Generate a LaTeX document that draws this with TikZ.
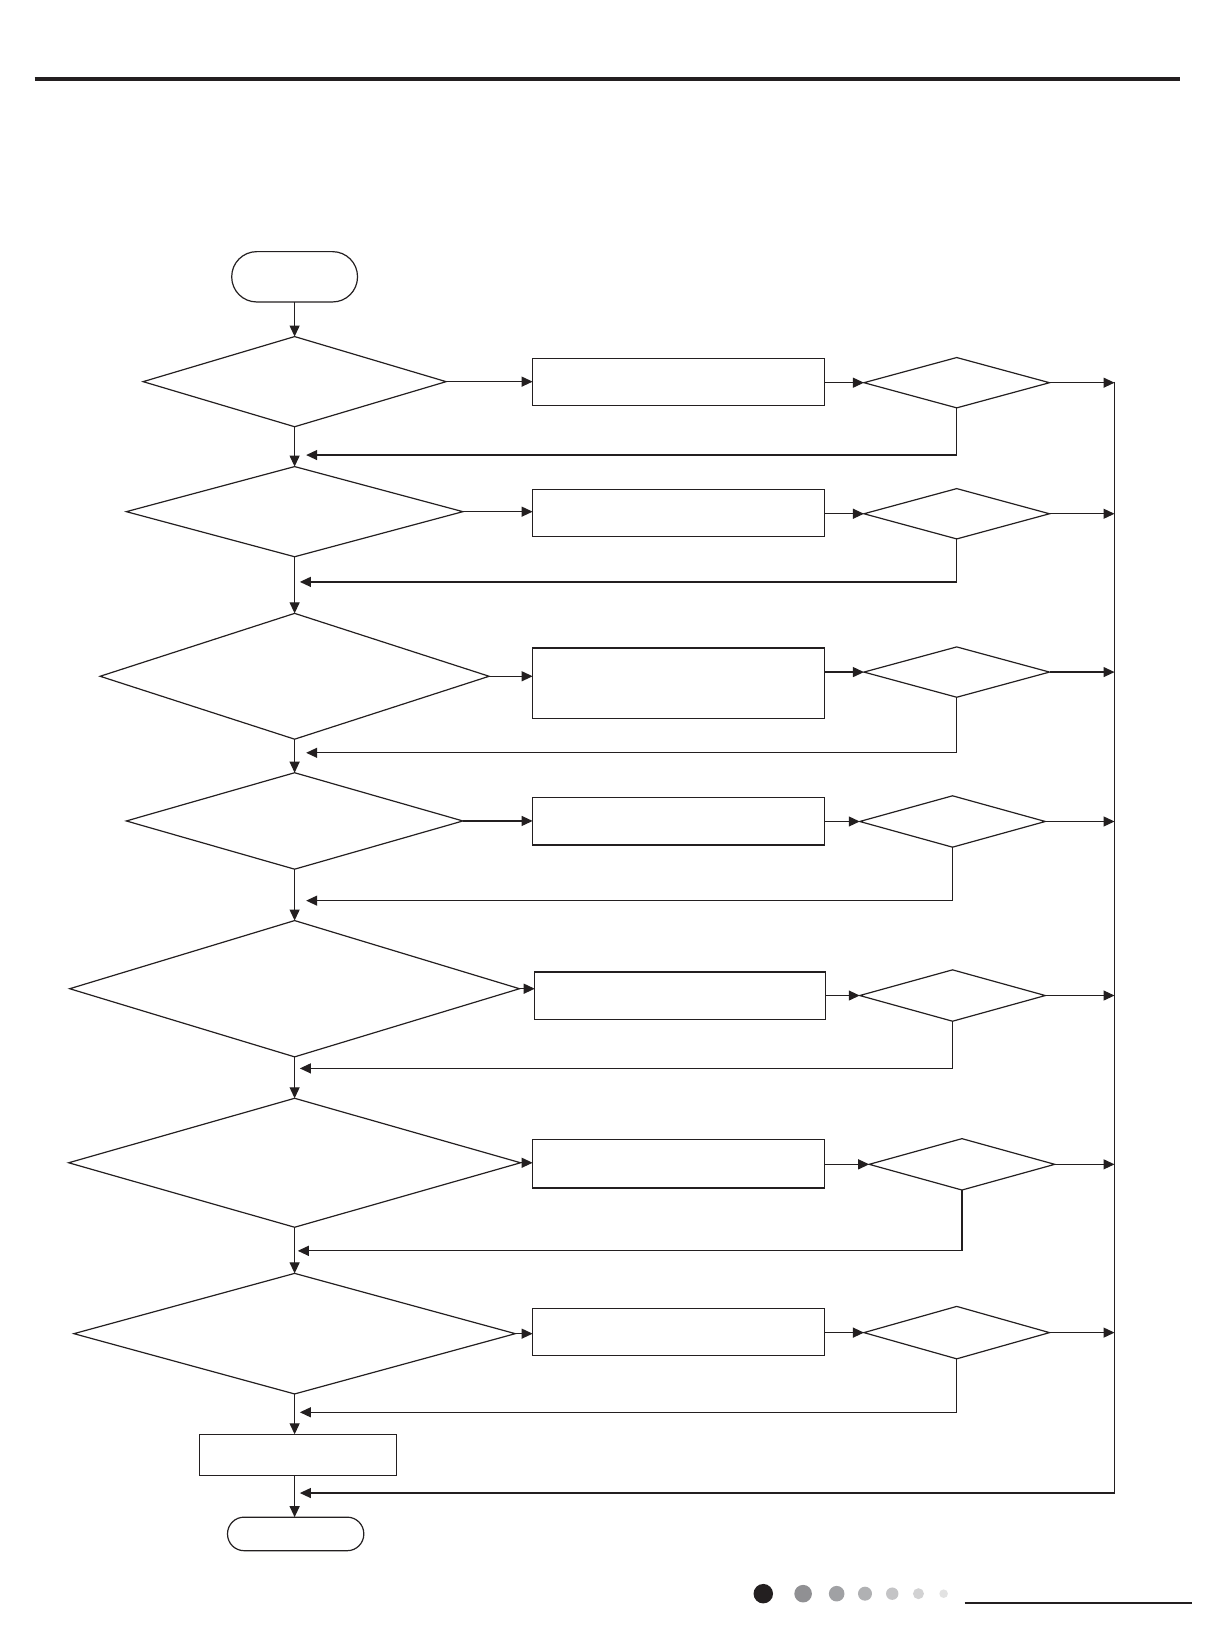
\documentclass[tikz,border=0pt]{standalone}
\usetikzlibrary{shapes.geometric,arrows.meta}
\definecolor{ink}{HTML}{231F20}
\definecolor{dotA}{HTML}{909093}
\definecolor{dotB}{HTML}{A0A1A4}
\definecolor{dotC}{HTML}{B0B1B3}
\definecolor{dotD}{HTML}{C4C4C6}
\definecolor{dotE}{HTML}{D2D2D3}
\definecolor{dotF}{HTML}{E2E2E2}
\begin{document}
\begin{tikzpicture}[x=0.5242pt,y=-0.5242pt,line width=0.6pt,draw=ink,
  >={Triangle[length=5.5pt,width=5pt]},
  dia/.style 2 args={draw=ink,diamond,inner sep=0pt,outer sep=0pt,minimum width=#1*0.5242pt,minimum height=#2*0.5242pt},
  box/.style 2 args={draw=ink,rectangle,inner sep=0pt,outer sep=0pt,minimum width=#1*0.5242pt,minimum height=#2*0.5242pt},
  term/.style 2 args={draw=ink,rectangle,inner sep=0pt,outer sep=0pt,minimum width=#1*0.5242pt,minimum height=#2*0.5242pt},
  flow/.style={->,draw=ink}]
\useasboundingbox (0,0) rectangle (1157,1568);
% header rule
\draw[line width=2.1pt] (33,75) -- (1125,75);
% terminators
\node[term={120}{48},rounded corners=12.5pt] (start) at (281,264) {};
\node[term={130}{32},rounded corners=8.3pt] (stop) at (282,1463) {};
% main decisions
\node[dia={289}{86}] (d1) at (281,364) {};
\node[dia={321}{86}] (d2) at (281,488) {};
\node[dia={371}{120}] (d3) at (281,645) {};
\node[dia={321}{92}] (d4) at (281,783) {};
\node[dia={429}{130}] (d5) at (281,943) {};
\node[dia={431}{123}] (d6) at (281,1109) {};
\node[dia={421}{115}] (d7) at (281,1272) {};
% process boxes
\node[box={278}{45}] (b1) at (647,364.5) {};
\node[box={278}{45}] (b2) at (647,489.5) {};
\node[box={278}{67}] (b3) at (647,651.5) {};
\node[box={278}{45}] (b4) at (647,783.5) {};
\node[box={277}{45}] (b5) at (648.5,949.5) {};
\node[box={278}{46}] (b6) at (647,1110) {};
\node[box={278}{45}] (b7) at (647,1270.5) {};
\node[box={188}{39}] (b8) at (284,1387.5) {};
% small decisions
\node[dia={177}{48}] (s1) at (912.5,365) {};
\node[dia={177}{48}] (s2) at (912.5,490) {};
\node[dia={177}{48}] (s3) at (912.5,641) {};
\node[dia={177}{49}] (s4) at (908.5,783.5) {};
\node[dia={177}{49}] (s5) at (908.5,949.5) {};
\node[dia={177}{49}] (s6) at (917.5,1110.5) {};
\node[dia={177}{50}] (s7) at (912.5,1271) {};
% rail and return points
\coordinate (railtop) at (1063,364);
\coordinate (railbot) at (1063,1424);
\coordinate (fend) at (286,1424);
\coordinate (f1) at (292,434);
\coordinate (f2) at (286,555);
\coordinate (f3) at (292,718);
\coordinate (f4) at (292,859);
\coordinate (f5) at (286,1019);
\coordinate (f6) at (284,1193);
\coordinate (f7) at (286,1347);
% main vertical flow
\draw[flow] (start.south) -- (d1.north);
\draw[flow] (d1.south) -- (d2.north);
\draw[flow] (d2.south) -- (d3.north);
\draw[flow] (d3.south) -- (d4.north);
\draw[flow] (d4.south) -- (d5.north);
\draw[flow] (d5.south) -- (d6.north);
\draw[flow] (d6.south) -- (d7.north);
\draw[flow] (d7.south) -- (d7.south |- b8.north);
\draw[flow] (b8.south -| d7.south) -- (stop.north -| d7.south);
% decision to box
\foreach \i in {1,...,7}{
  \draw[flow] (d\i.east) -- (d\i.east -| b\i.west);
  \draw[flow] (b\i.east |- s\i.west) -- (s\i.west);
  \draw[flow] (s\i.east) -- (s\i.east -| railtop);
  \draw[flow] (s\i.south) |- (f\i);
}
% right rail back to end
\draw[flow] (railtop) -- (railbot) -- (fend);
% footer
\fill[ink] (728,1520) circle[radius=4.87pt];
\fill[dotA] (766,1520) circle[radius=4.4pt];
\fill[dotB] (798,1520) circle[radius=3.9pt];
\fill[dotC] (825,1520) circle[radius=3.5pt];
\fill[dotD] (851,1520) circle[radius=3.1pt];
\fill[dotE] (876,1520) circle[radius=2.75pt];
\fill[dotF] (900,1520) circle[radius=2.15pt];
\draw[line width=1.3pt] (920,1529) -- (1137,1529);
\end{tikzpicture}
\end{document}
